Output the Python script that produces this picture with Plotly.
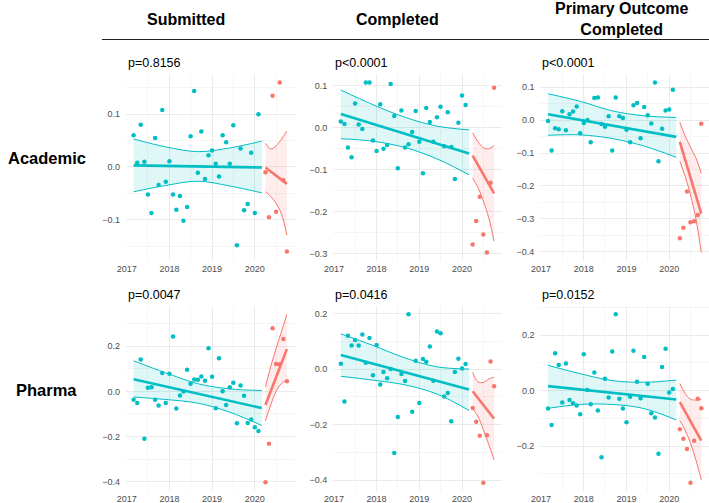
import pandas as pd
import plotly.graph_objects as go

# ---------------- data ----------------
pre_months = pd.date_range("2017-03-01", "2020-02-01", freq="MS")
post_months = pd.date_range("2020-04-01", "2020-10-01", freq="MS")
pre_fit_x = ["2017-03-01", "2020-03-01"]
pre_ci_x = ["2017-03-01", "2017-12-01", "2018-09-01", "2019-06-01", "2020-03-01"]
post_fit_x = ["2020-04-01", "2020-10-01"]
post_ci_x = ["2020-04-01", "2020-05-16", "2020-07-01", "2020-08-16", "2020-10-01"]

col_titles = ["Submitted", "Completed", "Primary Outcome<br>Completed"]
row_titles = ["Academic", "Pharma"]
p_labels = ["p=0.8156", "p&lt;0.0001", "p&lt;0.0001", "p=0.0047", "p=0.0416", "p=0.0152"]
year_ticks = ["2017-01-01", "2018-01-01", "2019-01-01", "2020-01-01"]
year_labels = ["2017", "2018", "2019", "2020"]

# Academic - Submitted
acad_sub_pre = [0.06, 0.008, 0.08, 0.01, -0.052, -0.087, 0.055, -0.034, 0.108, -0.028, 0.011, -0.052,
                -0.081, -0.055, -0.102, -0.076, 0.058, 0.144, -0.011, 0.067, -0.023, 0.022, 0.031, 0.006,
                -0.018, 0.06, 0.047, 0.006, 0.079, -0.148, 0.035, -0.082, -0.07, 0.027, -0.087, 0.1]
acad_sub_post = [-0.01, -0.095, 0.135, -0.085, 0.16, -0.025, -0.16]
acad_sub_pre_fit = [0.003, -0.001]
acad_sub_pre_hi = [0.053, 0.038, 0.029, 0.036, 0.049]
acad_sub_pre_lo = [-0.047, -0.035, -0.027, -0.036, -0.049]
acad_sub_post_fit = [-0.001, -0.032]
acad_sub_post_hi = [0.045, 0.034, 0.04, 0.053, 0.068]
acad_sub_post_lo = [-0.047, -0.056, -0.069, -0.089, -0.129]

# Academic - Completed
acad_comp_pre = [0.015, 0.009, -0.047, -0.07, 0.058, 0.008, -0.003, 0.108, 0.108, -0.03, -0.055, 0.056,
                 -0.05, -0.041, 0.104, 0.028, -0.096, 0.041, -0.047, -0.039, -0.01, 0.04, -0.033, -0.108,
                 0.047, 0.014, -0.033, 0.025, 0.05, -0.044, 0.037, -0.046, -0.122, 0.012, 0.077, 0.054]
acad_comp_post = [-0.278, -0.222, -0.164, -0.254, -0.297, -0.131, 0.095]
acad_comp_pre_fit = [0.033, -0.061]
acad_comp_pre_hi = [0.09, 0.055, 0.025, 0.004, -0.005]
acad_comp_pre_lo = [-0.026, -0.032, -0.047, -0.074, -0.112]
acad_comp_post_fit = [-0.066, -0.156]
acad_comp_post_hi = [-0.012, -0.033, -0.047, -0.05, -0.042]
acad_comp_post_lo = [-0.12, -0.142, -0.174, -0.214, -0.27]

# Academic - Primary Outcome Completed
acad_prim_pre = [-0.003, -0.092, -0.025, -0.028, 0.027, -0.031, 0.018, 0.026, 0.041, -0.04, -0.009, 0.0,
                 -0.067, 0.067, 0.069, -0.012, -0.02, 0.012, -0.092, 0.069, 0.012, 0.006, -0.029, -0.067,
                 0.045, 0.052, -0.055, 0.04, 0.015, -0.01, 0.114, -0.125, -0.026, 0.029, 0.032, 0.092]
acad_prim_post = [-0.359, -0.327, -0.217, -0.31, -0.307, -0.288, -0.011]
acad_prim_pre_fit = [0.018, -0.051]
acad_prim_pre_hi = [0.08, 0.057, 0.028, 0.013, 0.008]
acad_prim_pre_lo = [-0.046, -0.045, -0.056, -0.079, -0.113]
acad_prim_post_fit = [-0.066, -0.284]
acad_prim_post_hi = [-0.007, -0.048, -0.082, -0.115, -0.161]
acad_prim_post_lo = [-0.125, -0.171, -0.227, -0.3, -0.402]

# Pharma - Submitted
phar_sub_pre = [-0.037, -0.051, 0.141, -0.21, 0.016, 0.018, -0.037, -0.062, 0.081, -0.051, 0.078, 0.243,
                -0.076, -0.018, 0.0, 0.096, 0.034, 0.053, 0.051, 0.066, 0.047, 0.191, 0.065, -0.075,
                0.147, 0.001, -0.06, 0.018, 0.038, -0.141, 0.026, -0.019, -0.14, -0.124, -0.159, -0.175]
phar_sub_post = [-0.402, -0.232, 0.279, 0.121, 0.12, 0.232, 0.045]
phar_sub_pre_fit = [0.054, -0.074]
phar_sub_pre_hi = [0.135, 0.082, 0.034, 0.011, 0.004]
phar_sub_pre_lo = [-0.025, -0.036, -0.052, -0.092, -0.151]
phar_sub_post_fit = [-0.06, 0.187]
phar_sub_post_hi = [0.02, 0.11, 0.19, 0.265, 0.341]
phar_sub_post_lo = [-0.13, -0.06, 0.0, 0.035, 0.05]

# Pharma - Completed
phar_comp_pre = [0.019, -0.117, 0.12, 0.085, 0.105, 0.085, 0.124, 0.023, 0.112, -0.022, 0.087, -0.056,
                 -0.011, -0.033, 0.0, -0.302, -0.173, -0.018, -0.043, 0.197, -0.154, 0.03, -0.122, 0.036,
                 0.026, 0.081, -0.042, 0.135, 0.129, -0.099, -0.086, -0.188, -0.011, 0.037, 0.002, 0.018]
phar_comp_post = [-0.14, -0.19, -0.24, -0.409, -0.238, 0.027, -0.062]
phar_comp_pre_fit = [0.051, -0.074]
phar_comp_pre_hi = [0.127, 0.085, 0.04, 0.008, 0.0]
phar_comp_pre_lo = [-0.026, -0.04, -0.057, -0.09, -0.149]
phar_comp_post_fit = [-0.08, -0.179]
phar_comp_post_hi = [-0.012, -0.046, -0.048, -0.036, -0.029]
phar_comp_post_lo = [-0.143, -0.17, -0.218, -0.271, -0.327]

# Pharma - Primary Outcome Completed
phar_prim_pre = [-0.065, -0.124, 0.135, 0.092, -0.043, 0.098, -0.034, -0.046, -0.054, -0.085, 0.131, 0.002,
                 -0.049, 0.065, -0.072, -0.24, 0.043, -0.025, 0.141, 0.275, -0.029, -0.065, -0.114, -0.022,
                 0.144, 0.032, -0.028, 0.121, 0.025, -0.082, -0.097, -0.228, 0.085, 0.151, -0.007, 0.006]
phar_prim_post = [-0.139, -0.174, -0.211, -0.332, -0.181, -0.029, -0.064]
phar_prim_pre_fit = [0.016, -0.032]
phar_prim_pre_hi = [0.091, 0.061, 0.036, 0.03, 0.038]
phar_prim_pre_lo = [-0.064, -0.05, -0.05, -0.065, -0.106]
phar_prim_post_fit = [-0.042, -0.18]
phar_prim_post_hi = [0.026, -0.01, -0.031, -0.034, -0.031]
phar_prim_post_lo = [-0.108, -0.142, -0.19, -0.25, -0.322]

panels = [
    (acad_sub_pre, acad_sub_post, acad_sub_pre_fit, acad_sub_pre_hi, acad_sub_pre_lo,
     acad_sub_post_fit, acad_sub_post_hi, acad_sub_post_lo),
    (acad_comp_pre, acad_comp_post, acad_comp_pre_fit, acad_comp_pre_hi, acad_comp_pre_lo,
     acad_comp_post_fit, acad_comp_post_hi, acad_comp_post_lo),
    (acad_prim_pre, acad_prim_post, acad_prim_pre_fit, acad_prim_pre_hi, acad_prim_pre_lo,
     acad_prim_post_fit, acad_prim_post_hi, acad_prim_post_lo),
    (phar_sub_pre, phar_sub_post, phar_sub_pre_fit, phar_sub_pre_hi, phar_sub_pre_lo,
     phar_sub_post_fit, phar_sub_post_hi, phar_sub_post_lo),
    (phar_comp_pre, phar_comp_post, phar_comp_pre_fit, phar_comp_pre_hi, phar_comp_pre_lo,
     phar_comp_post_fit, phar_comp_post_hi, phar_comp_post_lo),
    (phar_prim_pre, phar_prim_post, phar_prim_pre_fit, phar_prim_pre_hi, phar_prim_pre_lo,
     phar_prim_post_fit, phar_prim_post_hi, phar_prim_post_lo),
]

# ---------------- style / layout ----------------
W, H = 709, 503
TEAL = "#00BFC4"
RED = "#F8766D"
TEAL_FILL = "rgba(0,191,196,0.12)"
RED_FILL = "rgba(248,118,109,0.13)"
FONT = "Liberation Sans, Arial, Helvetica, sans-serif"

y_ranges = [(-0.178, 0.176), (-0.317, 0.128), (-0.428, 0.14),
            (-0.441, 0.378), (-0.439, 0.227), (-0.362, 0.305)]
y_dticks = [0.1, 0.1, 0.1, 0.2, 0.2, 0.2]
col_left_px = [126.0, 333.2, 540.4]
col_width_px = 168.6
row_top_px = [74.0, 306.0]
row_bot_px = [261.0, 491.0]

fig = go.Figure()

for i, (pre, post, pfit, phi, plo, qfit, qhi, qlo) in enumerate(panels):
    xa = "x" if i == 0 else f"x{i+1}"
    ya = "y" if i == 0 else f"y{i+1}"
    # points
    fig.add_trace(go.Scatter(x=pre_months, y=pre, mode="markers", xaxis=xa, yaxis=ya,
                             marker=dict(color=TEAL, size=4.5), showlegend=False, hoverinfo="skip"))
    fig.add_trace(go.Scatter(x=post_months, y=post, mode="markers", xaxis=xa, yaxis=ya,
                             marker=dict(color=RED, size=4.5), showlegend=False, hoverinfo="skip"))
    for cix, hi, lo, fx, fy, col, fill in [
        (pre_ci_x, phi, plo, pre_fit_x, pfit, TEAL, TEAL_FILL),
        (post_ci_x, qhi, qlo, post_fit_x, qfit, RED, RED_FILL),
    ]:
        fig.add_trace(go.Scatter(x=cix, y=lo, mode="lines", xaxis=xa, yaxis=ya,
                                 line=dict(color=col, width=1, shape="spline", smoothing=1.0),
                                 showlegend=False, hoverinfo="skip"))
        fig.add_trace(go.Scatter(x=cix, y=hi, mode="lines", xaxis=xa, yaxis=ya, fill="tonexty",
                                 fillcolor=fill,
                                 line=dict(color=col, width=1, shape="spline", smoothing=1.0),
                                 showlegend=False, hoverinfo="skip"))
        fig.add_trace(go.Scatter(x=fx, y=fy, mode="lines", xaxis=xa, yaxis=ya,
                                 line=dict(color=col, width=2.6),
                                 showlegend=False, hoverinfo="skip"))

layout = dict(
    template="none",
    width=W, height=H, margin=dict(l=0, r=0, t=0, b=0, pad=0),
    paper_bgcolor="white", plot_bgcolor="white",
    font=dict(family=FONT, color="#4D4D4D", size=9),
    showlegend=False,
)

annotations = []
for i in range(6):
    r, c = divmod(i, 3)
    xk = "xaxis" if i == 0 else f"xaxis{i+1}"
    yk = "yaxis" if i == 0 else f"yaxis{i+1}"
    x0 = col_left_px[c] / W
    x1 = min((col_left_px[c] + col_width_px) / W, 1.0)
    y0 = 1 - row_bot_px[r] / H
    y1 = 1 - row_top_px[r] / H
    ya_anchor = "y" if i == 0 else f"y{i+1}"
    xa_anchor = "x" if i == 0 else f"x{i+1}"
    layout[xk] = dict(
        domain=[x0, x1], anchor=ya_anchor, type="date", automargin=False,
        range=["2016-12-26", "2020-12-06"],
        tickvals=year_ticks, ticktext=year_labels,
        showgrid=True, gridcolor="#EBEBEB", gridwidth=1,
        minor=dict(dtick="M6", tick0="2017-01-01", showgrid=True, gridcolor="#F5F5F5", gridwidth=0.7),
        zeroline=False, showline=False, ticks="",
        tickfont=dict(size=9, color="#4D4D4D"),
        ticklabelstandoff=1,
    )
    d = y_dticks[i]
    layout[yk] = dict(
        domain=[y0, y1], anchor=xa_anchor, automargin=False,
        range=list(y_ranges[i]), dtick=d, tick0=0, tickformat=".1f",
        showgrid=True, gridcolor="#EBEBEB", gridwidth=1,
        minor=dict(dtick=d / 2, tick0=0, showgrid=True, gridcolor="#F5F5F5", gridwidth=0.7),
        zeroline=False, showline=False, ticks="",
        tickfont=dict(size=9, color="#4D4D4D"),
        ticklabelstandoff=5,
    )
    annotations.append(dict(
        text=p_labels[i], xref="paper", yref="paper",
        x=x0, y=1 - (row_top_px[r] - 11) / H, xanchor="left", yanchor="middle",
        showarrow=False, font=dict(family=FONT, size=12.5, color="black"),
    ))

header_x_px = [186, 397, 621]
for c in range(3):
    annotations.append(dict(
        text=f"<b>{col_titles[c]}</b>", xref="paper", yref="paper",
        x=header_x_px[c] / W, y=1 - 19 / H, xanchor="center", yanchor="middle",
        showarrow=False, font=dict(family=FONT, size=16, color="black"),
    ))

row_center_px = [158, 390]
for r in range(2):
    annotations.append(dict(
        text=f"<b>{row_titles[r]}</b>", xref="paper", yref="paper",
        x=47 / W, y=1 - row_center_px[r] / H, xanchor="center", yanchor="middle",
        showarrow=False, font=dict(family=FONT, size=16.5, color="black"),
    ))

layout["annotations"] = annotations
layout["shapes"] = [dict(type="line", xref="paper", yref="paper",
                         x0=102 / W, x1=1.0, y0=1 - 39.5 / H, y1=1 - 39.5 / H,
                         line=dict(color="#222222", width=1.2))]

fig.update_layout(**layout)
fig.write_html(
    "out.html",
    config={"displayModeBar": False},
    post_script="document.body.style.margin='0';document.body.style.padding='0';"
                "document.body.style.overflow='hidden';",
)
